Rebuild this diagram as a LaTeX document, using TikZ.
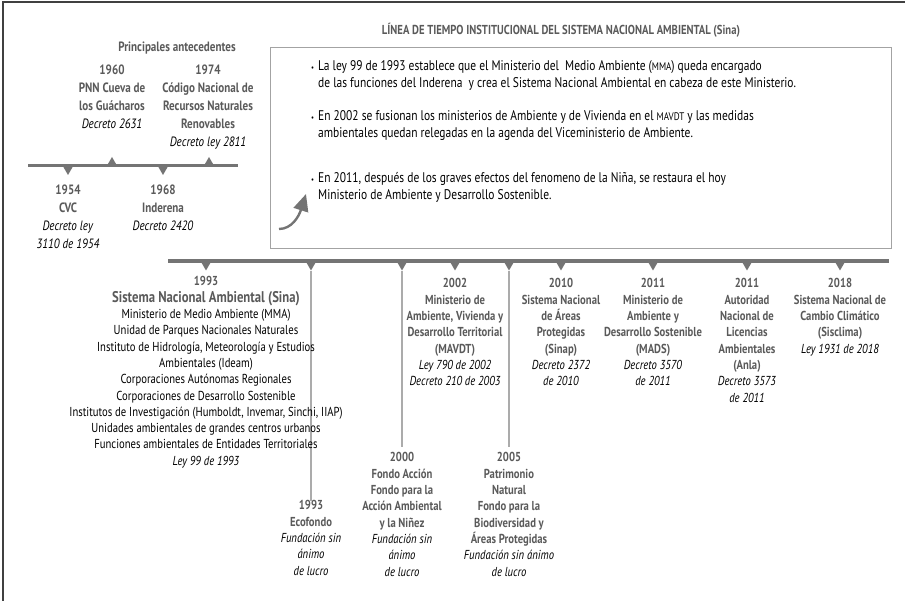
\documentclass[tikz,border=0pt]{standalone}
\usepackage{fontspec}
\setmainfont{PT Sans}[FakeStretch=0.82]
\usetikzlibrary{shapes.geometric,arrows.meta}
\definecolor{lineagris}{HTML}{747474}
\definecolor{textogris}{HTML}{5A5A5A}
\definecolor{bordegris}{HTML}{A3A3A3}
\definecolor{conectorgris}{HTML}{ABABAB}
\tikzset{
  hito/.style={align=center, inner sep=0pt, anchor=north, font=\fontsize{13}{16.3}\selectfont},
  antes/.style={hito, font=\fontsize{13.5}{17.8}\selectfont},
  abajo/.style={regular polygon, regular polygon sides=3, shape border rotate=180, fill=lineagris, minimum size=13pt, inner sep=0pt},
  arriba/.style={regular polygon, regular polygon sides=3, fill=lineagris, minimum size=13pt, inner sep=0pt},
  conector/.style={conectorgris, line width=1.5pt},
  punto/.style={anchor=north west, inner sep=0pt, align=left, font=\fontsize{14}{17}\selectfont},
}
\newcommand{\cab}[1]{{\bfseries\color{textogris}#1}}
\newcommand{\dec}[1]{\textit{#1}}
\newcommand{\sig}[1]{{\fontsize{11}{11}\selectfont #1}}
\newcommand{\vineta}{\makebox[7pt][l]{\fontsize{8}{8}\selectfont\textbullet}}

\begin{document}
\begin{tikzpicture}[x=1pt,y=-1pt]
    \useasboundingbox (0,0) rectangle (905,601);
    % marco
    \draw[line width=1.2pt, black!75] (905,2) -- (3,2) -- (3,601);

    % antecedentes
    \node[antes] (antec) at (177,42) {\cab{Principales antecedentes}};
    \draw[line width=3pt, lineagris] (28,166) -- (238,166);
    \node[abajo, minimum size=12pt] (m54) at (68,169) {};
    \node[arriba, minimum size=12pt] (m60) at (112,163) {};
    \node[abajo, minimum size=12pt] (m68) at (163,169) {};
    \node[arriba, minimum size=12pt] (m74) at (209,163) {};
    \node[antes] (t60) at (112,65) {\cab{1960}\\\cab{PNN Cueva de}\\\cab{los Guácharos}\\\dec{Decreto 2631}};
    \node[antes] (t74) at (208,65) {\cab{1974}\\\cab{Código Nacional de}\\\cab{Recursos Naturales}\\\cab{Renovables}\\\dec{Decreto ley 2811}};
    \node[antes] (t54) at (68,185) {\cab{1954}\\\cab{CVC}\\\dec{Decreto ley}\\\dec{3110 de 1954}};
    \node[antes] (t68) at (163,185) {\cab{1968}\\\cab{Inderena}\\\dec{Decreto 2420}};

    % recuadro
    \node[font=\fontsize{13}{14}\selectfont] (titulo) at (561,30) {\cab{LÍNEA DE TIEMPO INSTITUCIONAL DEL SISTEMA NACIONAL AMBIENTAL (Sina)}};
    \node[draw=bordegris, line width=1.3pt, anchor=north west, minimum width=621pt, minimum height=201pt, inner sep=0pt] (caja) at (270,47) {};
    \node[punto] (p1) at (311,60) {\vineta La ley 99 de 1993 establece que el Ministerio del\ \ Medio Ambiente (\sig{MMA}) queda encargado\\\hspace*{7pt}de las funciones del Inderena\ \ y crea el Sistema Nacional Ambiental en cabeza de este Ministerio.};
    \node[punto] (p2) at (311,110) {\vineta En 2002 se fusionan los ministerios de Ambiente y de Vivienda en el \sig{MAVDT} y las medidas\\\hspace*{7pt}ambientales quedan relegadas en la agenda del Viceministerio de Ambiente.};
    \node[punto] (p3) at (311,172) {\vineta En 2011, después de los graves efectos del fenomeno de la Niña, se restaura el hoy\\\hspace*{7pt}Ministerio de Ambiente y Desarrollo Sostenible.};
    \coordinate (flechaini) at (279,229);
    \coordinate (flechafin) at (306,194);
    \draw[line width=2.4pt, lineagris, -{Triangle[width=15pt,length=17pt]}] (flechaini) .. controls (292,229) and (299,216) .. (flechafin);

    % linea de tiempo
    \draw[line width=4pt, lineagris] (168,261) -- (889,261);
    \node[abajo] (m93) at (206,264) {};
    \node[abajo] (m93e) at (311,264) {};
    \node[abajo] (m00) at (402,264) {};
    \node[abajo] (m02) at (455,264) {};
    \node[abajo] (m05) at (509,264) {};
    \node[abajo] (m10) at (561,264) {};
    \node[abajo] (m11a) at (653,264) {};
    \node[abajo] (m11b) at (747,264) {};
    \node[abajo] (m18) at (840,264) {};

    \node[hito] (t93e) at (311,500.5) {\cab{1993}\\\cab{Ecofondo}\\\dec{Fundación sin}\\\dec{ánimo}\\\dec{de lucro}};
    \node[hito] (t00) at (402,452.5) {\cab{2000}\\\cab{Fondo Acción}\\\cab{Fondo para la}\\\cab{Acción Ambiental}\\\cab{y la Niñez}\\\dec{Fundación sin}\\\dec{ánimo}\\\dec{de lucro}};
    \node[hito] (t05) at (509,452.5) {\cab{2005}\\\cab{Patrimonio}\\\cab{Natural}\\\cab{Fondo para la}\\\cab{Biodiversidad y}\\\cab{Áreas Protegidas}\\\dec{Fundación sin ánimo}\\\dec{de lucro}};
    \draw[conector] (m93e.south) -- (t93e.north);
    \draw[conector, shorten >=6pt] (m00.south) -- (t00.north);
    \draw[conector, shorten >=6pt] (m05.south) -- (t05.north);

    \node[hito] (t93) at (206,276.5) {\cab{1993}\\{\fontsize{15.5}{18}\selectfont\cab{Sistema Nacional Ambiental (Sina)}}\\Ministerio de Medio Ambiente (MMA)\\Unidad de Parques Nacionales Naturales\\Instituto de Hidrología, Meteorología y Estudios\\Ambientales (Ideam)\\Corporaciones Autónomas Regionales\\Corporaciones de Desarrollo Sostenible\\Institutos de Investigación (Humboldt, Invemar, Sinchi, IIAP)\\Unidades ambientales de grandes centros urbanos\\Funciones ambientales de Entidades Territoriales\\\dec{Ley 99 de 1993}};
    \node[hito] (t02) at (455,278.5) {\cab{2002}\\\cab{Ministerio de}\\\cab{Ambiente, Vivienda y}\\\cab{Desarrollo Territorial}\\\cab{(MAVDT)}\\\dec{Ley 790 de 2002}\\\dec{Decreto 210 de 2003}};
    \node[hito] (t10) at (561,278.5) {\cab{2010}\\\cab{Sistema Nacional}\\\cab{de Áreas}\\\cab{Protegidas}\\\cab{(Sinap)}\\\dec{Decreto 2372}\\\dec{de 2010}};
    \node[hito] (t11a) at (653,278.5) {\cab{2011}\\\cab{Ministerio de}\\\cab{Ambiente y}\\\cab{Desarrollo Sostenible}\\\cab{(MADS)}\\\dec{Decreto 3570}\\\dec{de 2011}};
    \node[hito] (t11b) at (747,278.5) {\cab{2011}\\\cab{Autoridad}\\\cab{Nacional de}\\\cab{Licencias}\\\cab{Ambientales}\\\cab{(Anla)}\\\dec{Decreto 3573}\\\dec{de 2011}};
    \node[hito] (t18) at (840,278.5) {\cab{2018}\\\cab{Sistema Nacional de}\\\cab{Cambio Climático}\\\cab{(Sisclima)}\\\dec{Ley 1931 de 2018}};
\end{tikzpicture}
\end{document}
